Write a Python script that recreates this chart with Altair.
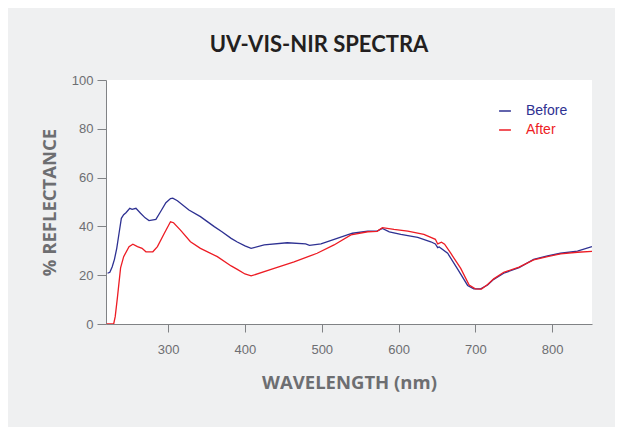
import altair as alt
import pandas as pd

before_wl = [221, 224, 227, 230, 233, 236, 239, 242, 245, 250, 253, 258, 264, 270, 275, 284, 290, 297, 303, 306,
             312, 327, 342, 360, 370, 382, 390, 400, 408, 425, 455, 479, 484, 499, 520, 540, 560, 572, 579, 588,
             603, 625, 642, 648, 651, 653, 664, 677, 690, 698, 707, 716, 724, 737, 757, 776, 794, 811, 833, 852]
before_val = [20.8, 21.2, 23.4, 26.5, 31.0, 37.2, 43.3, 44.8, 45.6, 47.4, 47.0, 47.4, 45.4, 43.5, 42.4, 42.9, 46.0, 49.7, 51.4, 51.6,
              50.5, 46.7, 44.0, 39.9, 37.8, 35.1, 33.6, 32.0, 31.0, 32.4, 33.3, 32.8, 32.2, 32.8, 35.1, 37.2, 38.1, 38.1, 39.2, 37.8,
              36.7, 35.5, 33.7, 32.8, 31.3, 31.6, 29.0, 22.5, 15.8, 14.4, 14.4, 16.0, 18.3, 20.8, 23.1, 26.5, 27.9, 29.0, 29.9, 31.7]

after_wl = [220, 229, 231, 234, 238, 242, 249, 254, 260, 266, 271, 280, 286, 295, 303, 307, 316, 329, 342, 364,
            382, 390, 400, 408, 434, 464, 494, 516, 538, 560, 572, 579, 594, 612, 633, 648, 651, 656, 660, 668,
            681, 692, 700, 708, 716, 724, 737, 757, 776, 794, 811, 833, 852]
after_val = [0.0, 0.0, 3.0, 11.2, 23.0, 27.6, 31.7, 32.7, 31.7, 31.0, 29.6, 29.6, 31.7, 37.2, 41.9, 41.5, 38.5, 33.7, 31.0, 27.6,
             23.8, 22.4, 20.5, 19.7, 22.4, 25.5, 29.0, 32.4, 36.5, 37.8, 38.0, 39.5, 38.8, 38.1, 36.7, 34.7, 32.8, 33.5, 32.7, 29.0,
             22.8, 16.0, 14.4, 14.3, 16.2, 18.5, 21.2, 23.3, 26.3, 27.6, 28.7, 29.4, 29.8]

series_names = ["Before", "After"]
series_colors = ["#2e3192", "#ed1c24"]
x_ticks = [300, 400, 500, 600, 700, 800]
y_ticks = [0, 20, 40, 60, 80, 100]

df = pd.concat([
    pd.DataFrame({"wl": before_wl, "val": before_val, "series": "Before", "order": range(len(before_wl))}),
    pd.DataFrame({"wl": after_wl, "val": after_val, "series": "After", "order": range(len(after_wl))}),
])

axis_gray = "#808285"
text_gray = "#6d6e71"

chart = alt.Chart(df).mark_line(strokeWidth=1.3, clip=True).encode(
    x=alt.X("wl:Q",
            scale=alt.Scale(domain=[219, 852], nice=False, zero=False),
            axis=alt.Axis(values=x_ticks, title="WAVELENGTH (nm)", tickSize=8, labelPadding=11,
                          titleX=243, titleY=58, titleBaseline="middle", titleAlign="center")),
    y=alt.Y("val:Q",
            scale=alt.Scale(domain=[0, 100], nice=False),
            axis=alt.Axis(values=y_ticks, title="% REFLECTANCE", tickSize=9, labelPadding=4,
                          titleX=-57, titleY=122, titleAngle=270, titleBaseline="middle", titleAlign="center")),
    color=alt.Color("series:N",
                    scale=alt.Scale(domain=series_names, range=series_colors),
                    legend=alt.Legend(title=None, orient="none", legendX=392, legendY=24,
                                      symbolType="stroke", symbolSize=140, symbolStrokeWidth=1.5,
                                      labelFont="Liberation Sans", labelFontSize=14, labelOffset=14,
                                      rowPadding=5, padding=0,
                                      labelColor=alt.ExprRef(expr="datum.value == 'Before' ? '#2e3192' : '#ed1c24'"))),
    order="order:Q",
).properties(
    width=486,
    height=244,
    background="#eff0f1",
    padding={"left": 98, "top": 72, "right": 23, "bottom": 103},
    autosize=alt.AutoSizeParams(type="none"),
    title=alt.TitleParams("UV-VIS-NIR SPECTRA", font="Lato", fontSize=22, fontWeight="bold",
                          color="#231f20", anchor="middle", dx=-30, offset=0, baseline="alphabetic"),
).configure_view(
    stroke=None, fill="white"
).configure_axis(
    grid=False,
    domainColor=axis_gray, tickColor=axis_gray, domainWidth=1, tickWidth=1,
    labelFont="Liberation Sans", labelFontSize=13, labelColor=text_gray,
    titleFont="Open Sans", titleFontSize=18.5, titleFontWeight="bold", titleColor=text_gray,
)

chart.save("out.html", embed_options={"renderer": "svg", "actions": False})
